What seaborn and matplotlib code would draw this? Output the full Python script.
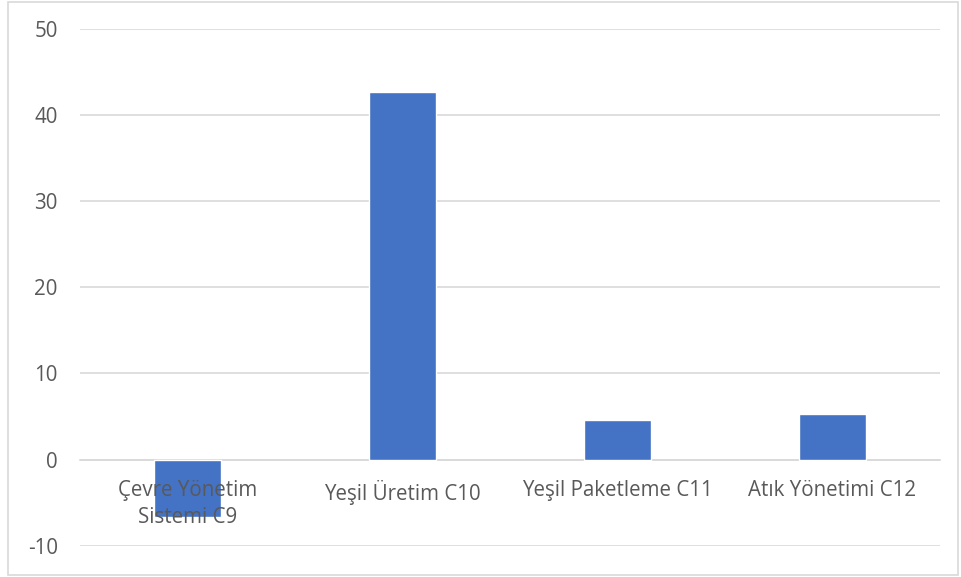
import matplotlib.pyplot as plt
import seaborn as sns
import pandas as pd

# values
categories = ["Çevre Yönetim\nSistemi C9", "Yeşil Üretim C10",
              "Yeşil Paketleme C11", "Atık Yönetimi C12"]
values = [-6.65, 42.7, 4.55, 5.25]
yticks = [-10, 0, 10, 20, 30, 40, 50]

df = pd.DataFrame({"kategori": categories, "deger": values})

sns.set_style("white")
plt.rcParams['font.family'] = ['Open Sans', 'DejaVu Sans']
plt.rcParams['axes.unicode_minus'] = False

fig = plt.figure(figsize=(9.61, 5.77), dpi=100)
ax = fig.add_axes([80 / 961, 1 - 545.7 / 577, 860 / 961, (545.7 - 28.7) / 577])

sns.barplot(data=df, x="kategori", y="deger", color="#4472C4",
            width=0.31, saturation=1, ax=ax, zorder=3)

ax.set_ylim(-10, 50)
ax.set_yticks(yticks)
ax.set_xlim(-0.5, 3.5)
ax.set_xlabel("")
ax.set_ylabel("")

# light gridlines like Excel, category labels drawn over the bars
ax.grid(axis="y", color="#d9d9d9", linewidth=1.2)
ax.yaxis.set_zorder(0.5)
ax.xaxis.set_zorder(4)
for s in ["top", "right", "left"]:
    ax.spines[s].set_visible(False)
ax.spines["bottom"].set_position(("data", 0))
ax.spines["bottom"].set_color("#d9d9d9")
ax.spines["bottom"].set_linewidth(1.2)
ax.spines["bottom"].set_zorder(0.6)

ax.tick_params(axis="x", length=0, pad=15, labelsize=14.8, labelcolor="#595959")
ax.tick_params(axis="y", length=0, pad=16, labelsize=14.8, labelcolor="#595959")
for lbl in ax.get_xticklabels():
    lbl.set_linespacing(1.35)
    lbl.set_verticalalignment("top")

# outer chart frame
frame = plt.Rectangle((8 / 961, 2 / 577), 950 / 961, 573 / 577, transform=fig.transFigure,
                      fill=False, edgecolor="#d9d9d9", linewidth=1.2)
fig.patches.append(frame)

fig.savefig("out.png", dpi=100)
